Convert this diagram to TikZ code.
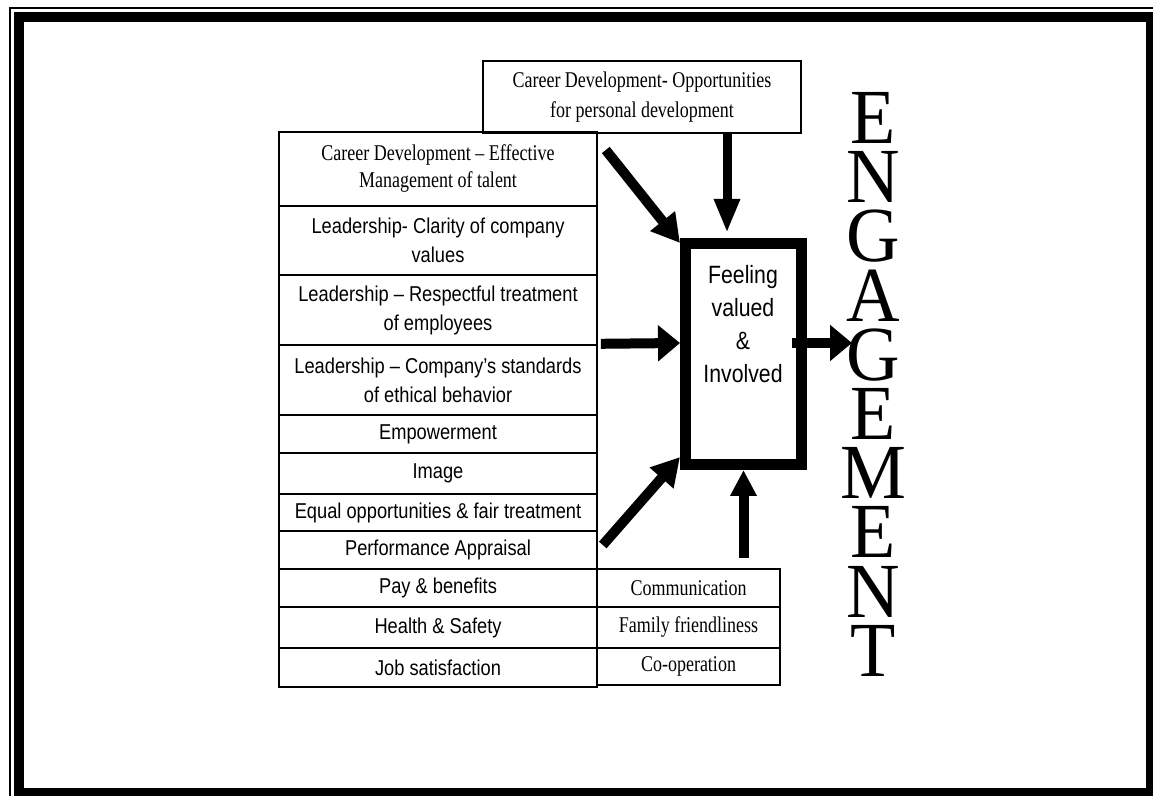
\documentclass[tikz,border=0pt]{standalone}
\usepackage{fontspec}
\setmainfont{Liberation Serif}
\newfontfamily\condsans[Ligatures=TeX, FakeStretch=0.85]{Liberation Sans}
\newfontfamily\condserif[Ligatures=TeX, FakeStretch=0.8]{Liberation Serif}
\newfontfamily\engserif[FakeStretch=0.95]{Liberation Serif}
\usetikzlibrary{arrows.meta}
\usetikzlibrary{calc}
\tikzset{rowbox/.style={draw, line width=0.8pt, inner sep=0pt, align=center,
   minimum width=159pt, font=\fontsize{10.75pt}{14.5pt}\condsans},
 serifrow/.style={rowbox, font=\fontsize{11.25pt}{13.5pt}\condserif},
 sidebox/.style={serifrow, minimum width=91.5pt},
 topbox/.style={serifrow, line width=1pt, font=\fontsize{11.25pt}{15pt}\condserif},
 feelbox/.style={draw, line width=5.5pt, minimum width=58pt, minimum height=110.5pt},
 feeltext/.style={align=center, inner sep=0pt, font=\fontsize{12.5pt}{16.5pt}\condsans},
 engword/.style={anchor=north, align=center, inner sep=0pt, font=\fontsize{39pt}{29.6pt}\engserif},
 fatarrow/.style={line width=5pt, -{Triangle[length=11pt,width=17.5pt]}},
 slantarrow/.style={line width=5pt, -{Triangle[length=14pt,width=15pt]}},
 }

\begin{document}
\begin{tikzpicture}[x=0.5pt, y=-0.5pt]
        \useasboundingbox (0,0) rectangle (1153,796);
        \clip (0,0) rectangle (1153,796);
        % page frame
        \draw[line width=1.15pt] (9.7,7.7) rectangle (1170,812);
        \draw[line width=5pt] (19.2,17.3) rectangle (1151,793);

        % left column
        \node[serifrow, minimum height=37pt] (row1) at (438,169) {Career Development -- Effective\\Management of talent};
        \node[rowbox, minimum height=34.5pt] (row2) at (438,240.5) {Leadership- Clarity of company\\values};
        \node[rowbox, minimum height=35pt] (row3) at (438,310) {Leadership -- Respectful treatment\\of employees};
        \node[rowbox, minimum height=35pt] (row4) at (438,380) {Leadership -- Company’s standards\\of ethical behavior};
        \node[rowbox, minimum height=19pt] (row5) at (438,434) {Empowerment};
        \node[rowbox, minimum height=20.5pt] (row6) at (438,473.5) {Image};
        \node[rowbox, minimum height=18.5pt] (row7) at (438,512.5) {Equal opportunities \& fair treatment};
        \node[rowbox, minimum height=19pt] (row8) at (438,550) {Performance Appraisal};
        \node[rowbox, minimum height=19pt] (row9) at (438,588) {Pay \& benefits};
        \node[rowbox, minimum height=20.5pt] (row10) at (438,627.5) {Health \& Safety};
        \node[rowbox, minimum height=19.5pt] (row11) at (438,667.5) {Job satisfaction};

        % bottom right column
        \node[sidebox, minimum height=19pt] (comm) at (688.5,588) {Communication};
        \node[sidebox, minimum height=20.5pt] (family) at (688.5,627.5) {Family friendliness};
        \node[sidebox, minimum height=18.5pt] (coop) at (688.5,666.5) {Co-operation};

        \node[topbox, minimum height=36pt] (top) at (642,97) {Career Development- Opportunities\\for personal development};

        % centre box
        \node[feelbox] (feel) at (743.5,354) {};
        \node[feeltext] (feeltxt) at (743,324) {Feeling\\valued\\\&\\Involved};

        \node[engword] (eng) at (873,92) {E\\N\\G\\A\\G\\E\\M\\E\\N\\T};

        % arrows
        \draw[line width=4.5pt, -{Triangle[length=17pt,width=12pt]}] ($(top.south)+(85,0)$) -- ($(feel.north)+(-16.5,-5)$);
        \draw[slantarrow] ($(row1.east)+(8,-19)$) -- ($(feel.north west)+(0,5)$);
        \draw[fatarrow] ($(row3.south east)+(3,-2)$) -- ($(feel.west)+(0,-11)$);
        \draw[slantarrow] ($(row8.east)+(5,-5)$) -- ($(feel.south west)+(0,-13)$);
        \draw[line width=5pt, -{Triangle[length=13pt,width=12.5pt]}] ($(comm.north)+(55,-10)$) -- (feel.south);
        \draw[fatarrow] ($(feel.east)+(-15,-11)$) -- ($(feel.east)+(45,-11)$);
    \end{tikzpicture}
\end{document}
